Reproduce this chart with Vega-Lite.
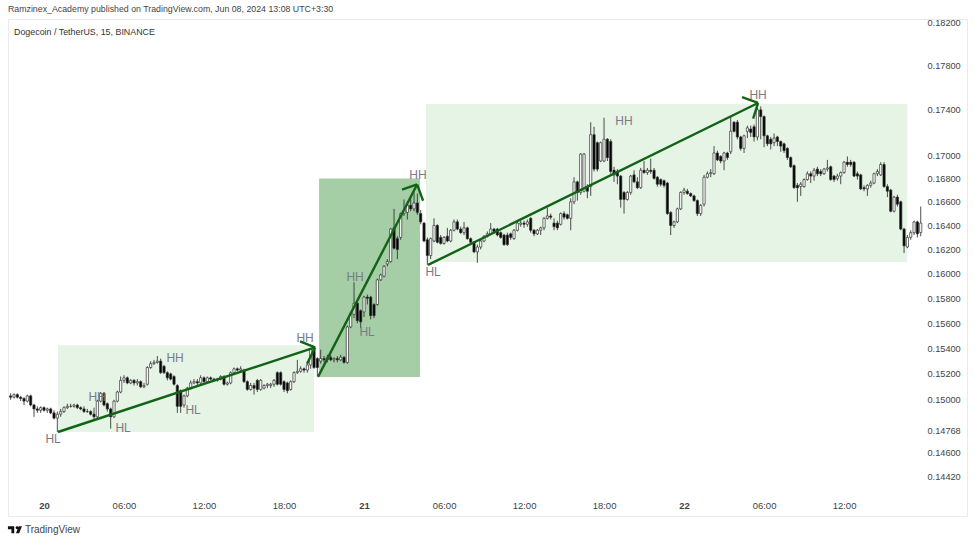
{
  "$schema": "https://vega.github.io/schema/vega-lite/v6.json",
  "description": "DOGE/USDT 15 minute candles with market structure zones, arrows and HH/HL labels.",
  "width": 959,
  "height": 497,
  "autosize": "none",
  "padding": {"left": 8, "top": 19, "right": 8, "bottom": 27},
  "background": "white",
  "title": {"text": "Ramzinex_Academy published on TradingView.com, Jun 08, 2024 13:08 UTC+3:30", "anchor": "start", "fontSize": 8.8, "fontWeight": "normal", "color": "#444444", "font": "Liberation Sans", "offset": 4},
  "config": {"view": {"stroke": "#e8eaef"}, "font": "Liberation Sans"},
  "datasets": {
    "zones": [
      {"a": 1.05, "b": 20.25, "top": 0.15424, "bot": 0.14754, "kind": "pullback"},
      {"a": 20.63, "b": 28.2, "top": 0.168, "bot": 0.15177, "kind": "impulse"},
      {"a": 28.65, "b": 64.73, "top": 0.17453, "bot": 0.16096, "kind": "pullback"}
    ],
    "arrows": [
      {"seg": "a", "t": 1.05, "p": 0.14755}, {"seg": "a", "t": 20.33, "p": 0.15408},
      {"seg": "a1", "t": 19.2, "p": 0.15456}, {"seg": "a1", "t": 20.33, "p": 0.15408},
      {"seg": "a2", "t": 19.73, "p": 0.1528}, {"seg": "a2", "t": 20.33, "p": 0.15408},
      {"seg": "b", "t": 20.55, "p": 0.15177}, {"seg": "b", "t": 27.98, "p": 0.16748},
      {"seg": "b1", "t": 26.85, "p": 0.16704}, {"seg": "b1", "t": 27.98, "p": 0.16748},
      {"seg": "b2", "t": 28.43, "p": 0.16609}, {"seg": "b2", "t": 27.98, "p": 0.16748},
      {"seg": "c", "t": 28.8, "p": 0.16072}, {"seg": "c", "t": 53.55, "p": 0.17461},
      {"seg": "c1", "t": 52.35, "p": 0.17513}, {"seg": "c1", "t": 53.55, "p": 0.17461},
      {"seg": "c2", "t": 53.18, "p": 0.17322}, {"seg": "c2", "t": 53.55, "p": 0.17461}
    ],
    "labels": [
      {"t": 0.68, "p": 0.147, "s": "HL"}, {"t": 3.98, "p": 0.15023, "s": "HH"},
      {"t": 5.93, "p": 0.14785, "s": "HL"}, {"t": 9.83, "p": 0.15323, "s": "HH"},
      {"t": 11.18, "p": 0.14919, "s": "HL"}, {"t": 19.58, "p": 0.1548, "s": "HH"},
      {"t": 23.33, "p": 0.15975, "s": "HH"}, {"t": 24.23, "p": 0.15528, "s": "HL"},
      {"t": 28.05, "p": 0.16826, "s": "HH"}, {"t": 29.18, "p": 0.16016, "s": "HL"},
      {"t": 43.5, "p": 0.17304, "s": "HH"}, {"t": 53.55, "p": 0.17529, "s": "HH"}
    ],
    "candles": [
      {"t":-2.5,"o":0.1503,"c":0.1502,"h":0.1505,"l":0.15},
      {"t":-2.25,"o":0.1502,"c":0.1504,"h":0.1505,"l":0.1501},
      {"t":-2,"o":0.1504,"c":0.1502,"h":0.1505,"l":0.1501},
      {"t":-1.75,"o":0.1502,"c":0.1501,"h":0.1503,"l":0.1499},
      {"t":-1.5,"o":0.1501,"c":0.1499,"h":0.1502,"l":0.1496},
      {"t":-1.25,"o":0.1499,"c":0.1503,"h":0.1504,"l":0.1498},
      {"t":-1,"o":0.1503,"c":0.1496,"h":0.1504,"l":0.1495},
      {"t":-0.75,"o":0.1496,"c":0.1493,"h":0.1497,"l":0.1487},
      {"t":-0.5,"o":0.1493,"c":0.1492,"h":0.1495,"l":0.149},
      {"t":-0.25,"o":0.1492,"c":0.1494,"h":0.1495,"l":0.149},
      {"t":0,"o":0.1494,"c":0.1492,"h":0.1495,"l":0.1491},
      {"t":0.25,"o":0.1492,"c":0.1493,"h":0.1494,"l":0.149},
      {"t":0.5,"o":0.1493,"c":0.149,"h":0.1494,"l":0.1489},
      {"t":0.75,"o":0.149,"c":0.1486,"h":0.1492,"l":0.1485},
      {"t":1,"o":0.1486,"c":0.1489,"h":0.1491,"l":0.14755},
      {"t":1.25,"o":0.1489,"c":0.1491,"h":0.1493,"l":0.1487},
      {"t":1.5,"o":0.1491,"c":0.1494,"h":0.1495,"l":0.149},
      {"t":1.75,"o":0.1494,"c":0.1495,"h":0.1497,"l":0.1493},
      {"t":2,"o":0.1495,"c":0.1495,"h":0.1497,"l":0.1494},
      {"t":2.25,"o":0.1495,"c":0.1496,"h":0.1497,"l":0.1494},
      {"t":2.5,"o":0.1496,"c":0.1494,"h":0.1497,"l":0.1493},
      {"t":2.75,"o":0.1494,"c":0.1493,"h":0.1495,"l":0.1492},
      {"t":3,"o":0.1493,"c":0.1491,"h":0.1495,"l":0.149},
      {"t":3.25,"o":0.1491,"c":0.1491,"h":0.1493,"l":0.149},
      {"t":3.5,"o":0.1491,"c":0.1489,"h":0.1492,"l":0.1488},
      {"t":3.75,"o":0.1489,"c":0.1487,"h":0.1494,"l":0.1484},
      {"t":4,"o":0.1487,"c":0.1499,"h":0.15,"l":0.1486},
      {"t":4.25,"o":0.1499,"c":0.1505,"h":0.1506,"l":0.1498},
      {"t":4.5,"o":0.1505,"c":0.1496,"h":0.1506,"l":0.1495},
      {"t":4.75,"o":0.1497,"c":0.1493,"h":0.1498,"l":0.1491},
      {"t":5,"o":0.1493,"c":0.1487,"h":0.1494,"l":0.1478},
      {"t":5.25,"o":0.1487,"c":0.1499,"h":0.15,"l":0.1486},
      {"t":5.5,"o":0.1499,"c":0.1506,"h":0.1507,"l":0.1498},
      {"t":5.75,"o":0.1506,"c":0.1515,"h":0.1518,"l":0.1505},
      {"t":6,"o":0.1515,"c":0.1517,"h":0.1519,"l":0.1513},
      {"t":6.25,"o":0.1517,"c":0.1513,"h":0.1518,"l":0.1512},
      {"t":6.5,"o":0.1513,"c":0.1515,"h":0.1516,"l":0.1512},
      {"t":6.75,"o":0.1515,"c":0.1513,"h":0.1516,"l":0.1511},
      {"t":7,"o":0.1513,"c":0.1514,"h":0.1516,"l":0.1511},
      {"t":7.25,"o":0.1514,"c":0.151,"h":0.1515,"l":0.1509},
      {"t":7.5,"o":0.151,"c":0.1511,"h":0.1513,"l":0.1509},
      {"t":7.75,"o":0.1512,"c":0.1525,"h":0.1526,"l":0.1511},
      {"t":8,"o":0.1525,"c":0.1528,"h":0.153,"l":0.1524},
      {"t":8.25,"o":0.1528,"c":0.1529,"h":0.1531,"l":0.1527},
      {"t":8.5,"o":0.1529,"c":0.153,"h":0.1534,"l":0.1528},
      {"t":8.75,"o":0.153,"c":0.1521,"h":0.1532,"l":0.152},
      {"t":9,"o":0.1526,"c":0.1521,"h":0.1527,"l":0.152},
      {"t":9.25,"o":0.1521,"c":0.1517,"h":0.1522,"l":0.1515},
      {"t":9.5,"o":0.152,"c":0.1516,"h":0.1521,"l":0.1515},
      {"t":9.75,"o":0.1518,"c":0.1512,"h":0.1519,"l":0.1511},
      {"t":10,"o":0.1511,"c":0.1495,"h":0.1512,"l":0.149},
      {"t":10.25,"o":0.1507,"c":0.1495,"h":0.1508,"l":0.149},
      {"t":10.5,"o":0.1496,"c":0.1503,"h":0.1504,"l":0.1494},
      {"t":10.75,"o":0.1503,"c":0.1509,"h":0.151,"l":0.1502},
      {"t":11,"o":0.1509,"c":0.1513,"h":0.1515,"l":0.1508},
      {"t":11.25,"o":0.1513,"c":0.1514,"h":0.1516,"l":0.1512},
      {"t":11.5,"o":0.1514,"c":0.1513,"h":0.1516,"l":0.1511},
      {"t":11.75,"o":0.1513,"c":0.1517,"h":0.1519,"l":0.1511},
      {"t":12,"o":0.1517,"c":0.1514,"h":0.1518,"l":0.1513},
      {"t":12.25,"o":0.1514,"c":0.1517,"h":0.1518,"l":0.1513},
      {"t":12.5,"o":0.1517,"c":0.1516,"h":0.1518,"l":0.1515},
      {"t":12.75,"o":0.1516,"c":0.1515,"h":0.1517,"l":0.1514},
      {"t":13,"o":0.1515,"c":0.1516,"h":0.1517,"l":0.1514},
      {"t":13.25,"o":0.1516,"c":0.1518,"h":0.1519,"l":0.1515},
      {"t":13.5,"o":0.1518,"c":0.1512,"h":0.1519,"l":0.1511},
      {"t":13.75,"o":0.1512,"c":0.1513,"h":0.1514,"l":0.1511},
      {"t":14,"o":0.1513,"c":0.1521,"h":0.1522,"l":0.1512},
      {"t":14.25,"o":0.1521,"c":0.1524,"h":0.1525,"l":0.152},
      {"t":14.5,"o":0.1524,"c":0.1523,"h":0.1525,"l":0.1522},
      {"t":14.75,"o":0.1523,"c":0.1524,"h":0.1526,"l":0.1521},
      {"t":15,"o":0.1523,"c":0.1514,"h":0.1524,"l":0.1513},
      {"t":15.25,"o":0.1514,"c":0.1508,"h":0.1515,"l":0.1507},
      {"t":15.5,"o":0.1508,"c":0.1511,"h":0.1513,"l":0.1507},
      {"t":15.75,"o":0.1511,"c":0.1509,"h":0.1513,"l":0.1504},
      {"t":16,"o":0.1515,"c":0.1508,"h":0.1516,"l":0.1506},
      {"t":16.25,"o":0.1508,"c":0.1515,"h":0.1516,"l":0.1507},
      {"t":16.5,"o":0.1509,"c":0.1511,"h":0.1512,"l":0.1508},
      {"t":16.75,"o":0.1511,"c":0.1512,"h":0.1513,"l":0.1509},
      {"t":17,"o":0.1511,"c":0.1512,"h":0.1513,"l":0.1509},
      {"t":17.25,"o":0.1512,"c":0.1515,"h":0.1516,"l":0.151},
      {"t":17.5,"o":0.1521,"c":0.1512,"h":0.1522,"l":0.1511},
      {"t":17.75,"o":0.1521,"c":0.1512,"h":0.1522,"l":0.1511},
      {"t":18,"o":0.1514,"c":0.1508,"h":0.1515,"l":0.1506},
      {"t":18.25,"o":0.1513,"c":0.1507,"h":0.1514,"l":0.1505},
      {"t":18.5,"o":0.1508,"c":0.1514,"h":0.1515,"l":0.1507},
      {"t":18.75,"o":0.1514,"c":0.1521,"h":0.1522,"l":0.1513},
      {"t":19,"o":0.1521,"c":0.1522,"h":0.1531,"l":0.152},
      {"t":19.25,"o":0.1522,"c":0.1524,"h":0.1526,"l":0.1521},
      {"t":19.5,"o":0.1524,"c":0.1523,"h":0.1525,"l":0.1521},
      {"t":19.75,"o":0.1523,"c":0.1527,"h":0.1529,"l":0.1521},
      {"t":20,"o":0.1527,"c":0.1539,"h":0.154,"l":0.1524},
      {"t":20.25,"o":0.1539,"c":0.1525,"h":0.154,"l":0.1524},
      {"t":20.5,"o":0.1532,"c":0.1525,"h":0.1533,"l":0.1518},
      {"t":20.75,"o":0.153,"c":0.1532,"h":0.1539,"l":0.1528},
      {"t":21,"o":0.1532,"c":0.1531,"h":0.1534,"l":0.1529},
      {"t":21.25,"o":0.1531,"c":0.1533,"h":0.1535,"l":0.1529},
      {"t":21.5,"o":0.1533,"c":0.1531,"h":0.1535,"l":0.153},
      {"t":21.75,"o":0.1531,"c":0.1532,"h":0.1533,"l":0.1529},
      {"t":22,"o":0.1532,"c":0.1531,"h":0.1534,"l":0.1529},
      {"t":22.25,"o":0.1531,"c":0.1533,"h":0.1535,"l":0.153},
      {"t":22.5,"o":0.1533,"c":0.1529,"h":0.1534,"l":0.1528},
      {"t":22.75,"o":0.1529,"c":0.1557,"h":0.1558,"l":0.1528},
      {"t":23,"o":0.1557,"c":0.1568,"h":0.1569,"l":0.1556},
      {"t":23.25,"o":0.1567,"c":0.1576,"h":0.1593,"l":0.1564},
      {"t":23.5,"o":0.1576,"c":0.1562,"h":0.1578,"l":0.156},
      {"t":23.75,"o":0.157,"c":0.1561,"h":0.1571,"l":0.1556},
      {"t":24,"o":0.1569,"c":0.1581,"h":0.1582,"l":0.1565},
      {"t":24.25,"o":0.1581,"c":0.158,"h":0.1583,"l":0.1575},
      {"t":24.5,"o":0.1581,"c":0.1566,"h":0.1582,"l":0.1563},
      {"t":24.75,"o":0.1575,"c":0.1566,"h":0.1576,"l":0.1564},
      {"t":25,"o":0.1575,"c":0.1595,"h":0.1596,"l":0.1574},
      {"t":25.25,"o":0.1595,"c":0.1599,"h":0.16,"l":0.1594},
      {"t":25.5,"o":0.1598,"c":0.1606,"h":0.1607,"l":0.1597},
      {"t":25.75,"o":0.1608,"c":0.161,"h":0.1612,"l":0.1606},
      {"t":26,"o":0.161,"c":0.1637,"h":0.1638,"l":0.1609},
      {"t":26.25,"o":0.1638,"c":0.1621,"h":0.1654,"l":0.162},
      {"t":26.5,"o":0.1629,"c":0.162,"h":0.1631,"l":0.1612},
      {"t":26.75,"o":0.163,"c":0.165,"h":0.1651,"l":0.1628},
      {"t":27,"o":0.165,"c":0.1653,"h":0.1662,"l":0.1648},
      {"t":27.25,"o":0.1651,"c":0.1657,"h":0.166,"l":0.1645},
      {"t":27.5,"o":0.1657,"c":0.1654,"h":0.1664,"l":0.1652},
      {"t":27.75,"o":0.1654,"c":0.1659,"h":0.1668,"l":0.1652},
      {"t":28,"o":0.1659,"c":0.1651,"h":0.1667,"l":0.1649},
      {"t":28.25,"o":0.165,"c":0.1643,"h":0.1653,"l":0.1641},
      {"t":28.5,"o":0.1642,"c":0.1627,"h":0.1643,"l":0.1626},
      {"t":28.75,"o":0.1628,"c":0.1615,"h":0.163,"l":0.1607},
      {"t":29,"o":0.1615,"c":0.1629,"h":0.163,"l":0.1612},
      {"t":29.25,"o":0.1627,"c":0.164,"h":0.1646,"l":0.1626},
      {"t":29.5,"o":0.164,"c":0.1626,"h":0.1641,"l":0.1625},
      {"t":29.75,"o":0.163,"c":0.1625,"h":0.1632,"l":0.1624},
      {"t":30,"o":0.1625,"c":0.163,"h":0.1631,"l":0.1624},
      {"t":30.25,"o":0.1631,"c":0.1627,"h":0.1638,"l":0.1626},
      {"t":30.5,"o":0.1627,"c":0.1636,"h":0.1637,"l":0.1626},
      {"t":30.75,"o":0.1636,"c":0.1643,"h":0.1645,"l":0.1635},
      {"t":31,"o":0.1643,"c":0.1637,"h":0.1645,"l":0.1636},
      {"t":31.25,"o":0.1637,"c":0.1634,"h":0.1639,"l":0.1633},
      {"t":31.5,"o":0.1634,"c":0.1638,"h":0.1643,"l":0.1632},
      {"t":31.75,"o":0.1638,"c":0.1629,"h":0.1639,"l":0.1628},
      {"t":32,"o":0.1629,"c":0.1626,"h":0.163,"l":0.1625},
      {"t":32.25,"o":0.1626,"c":0.1618,"h":0.1627,"l":0.1617},
      {"t":32.5,"o":0.1618,"c":0.1622,"h":0.1624,"l":0.1609},
      {"t":32.75,"o":0.1622,"c":0.1627,"h":0.1628,"l":0.162},
      {"t":33,"o":0.1627,"c":0.1631,"h":0.1632,"l":0.1626},
      {"t":33.25,"o":0.1631,"c":0.1633,"h":0.1635,"l":0.163},
      {"t":33.5,"o":0.1633,"c":0.1637,"h":0.1642,"l":0.1632},
      {"t":33.75,"o":0.1637,"c":0.1635,"h":0.1638,"l":0.1633},
      {"t":34,"o":0.1637,"c":0.1632,"h":0.1638,"l":0.1631},
      {"t":34.25,"o":0.1634,"c":0.163,"h":0.1635,"l":0.1629},
      {"t":34.5,"o":0.1632,"c":0.1624,"h":0.1633,"l":0.1623},
      {"t":34.75,"o":0.1632,"c":0.1624,"h":0.1634,"l":0.1623},
      {"t":35,"o":0.1633,"c":0.163,"h":0.1634,"l":0.1628},
      {"t":35.25,"o":0.1629,"c":0.1636,"h":0.1637,"l":0.1628},
      {"t":35.5,"o":0.1636,"c":0.1642,"h":0.1643,"l":0.1635},
      {"t":35.75,"o":0.1641,"c":0.1642,"h":0.1644,"l":0.1639},
      {"t":36,"o":0.1642,"c":0.1641,"h":0.1644,"l":0.1638},
      {"t":36.25,"o":0.1641,"c":0.1643,"h":0.1645,"l":0.1639},
      {"t":36.5,"o":0.1646,"c":0.1636,"h":0.1647,"l":0.1634},
      {"t":36.75,"o":0.1636,"c":0.1633,"h":0.1637,"l":0.1631},
      {"t":37,"o":0.1633,"c":0.1636,"h":0.1637,"l":0.1632},
      {"t":37.25,"o":0.1636,"c":0.1638,"h":0.1639,"l":0.1632},
      {"t":37.5,"o":0.1638,"c":0.1646,"h":0.1647,"l":0.1636},
      {"t":37.75,"o":0.1646,"c":0.1648,"h":0.1655,"l":0.1645},
      {"t":38,"o":0.1648,"c":0.1647,"h":0.165,"l":0.1645},
      {"t":38.25,"o":0.1642,"c":0.1639,"h":0.1646,"l":0.1636},
      {"t":38.5,"o":0.1642,"c":0.1638,"h":0.1644,"l":0.1636},
      {"t":38.75,"o":0.1641,"c":0.165,"h":0.1651,"l":0.164},
      {"t":39,"o":0.165,"c":0.1647,"h":0.1652,"l":0.1645},
      {"t":39.25,"o":0.1649,"c":0.1646,"h":0.165,"l":0.1645},
      {"t":39.5,"o":0.1646,"c":0.166,"h":0.1663,"l":0.1636},
      {"t":39.75,"o":0.166,"c":0.1677,"h":0.1681,"l":0.1658},
      {"t":40,"o":0.1677,"c":0.1668,"h":0.1678,"l":0.1661},
      {"t":40.25,"o":0.1668,"c":0.1701,"h":0.1702,"l":0.1666},
      {"t":40.5,"o":0.1669,"c":0.1701,"h":0.1702,"l":0.1668},
      {"t":40.75,"o":0.1673,"c":0.1669,"h":0.1675,"l":0.1663},
      {"t":41,"o":0.1673,"c":0.1718,"h":0.1729,"l":0.1665},
      {"t":41.25,"o":0.1718,"c":0.1688,"h":0.1725,"l":0.1686},
      {"t":41.5,"o":0.1711,"c":0.1688,"h":0.1712,"l":0.1686},
      {"t":41.75,"o":0.1695,"c":0.1711,"h":0.1712,"l":0.1694},
      {"t":42,"o":0.1695,"c":0.1714,"h":0.1733,"l":0.1694},
      {"t":42.25,"o":0.1714,"c":0.1698,"h":0.1715,"l":0.1695},
      {"t":42.5,"o":0.1712,"c":0.1686,"h":0.1714,"l":0.1684},
      {"t":42.75,"o":0.1687,"c":0.1683,"h":0.169,"l":0.1677},
      {"t":43,"o":0.1686,"c":0.1682,"h":0.1688,"l":0.1675},
      {"t":43.25,"o":0.1682,"c":0.1662,"h":0.1683,"l":0.1655},
      {"t":43.5,"o":0.1668,"c":0.1662,"h":0.1669,"l":0.165},
      {"t":43.75,"o":0.1662,"c":0.1668,"h":0.1669,"l":0.1661},
      {"t":44,"o":0.1668,"c":0.1682,"h":0.1683,"l":0.1666},
      {"t":44.25,"o":0.1683,"c":0.1677,"h":0.1687,"l":0.1676},
      {"t":44.5,"o":0.1677,"c":0.1672,"h":0.1681,"l":0.1671},
      {"t":44.75,"o":0.1672,"c":0.1687,"h":0.1689,"l":0.1671},
      {"t":45,"o":0.1687,"c":0.1685,"h":0.1695,"l":0.1684},
      {"t":45.25,"o":0.1685,"c":0.1687,"h":0.1689,"l":0.1683},
      {"t":45.5,"o":0.1687,"c":0.1686,"h":0.1697,"l":0.1684},
      {"t":45.75,"o":0.1687,"c":0.168,"h":0.1689,"l":0.1679},
      {"t":46,"o":0.1681,"c":0.1675,"h":0.1682,"l":0.1673},
      {"t":46.25,"o":0.1679,"c":0.1675,"h":0.168,"l":0.1673},
      {"t":46.5,"o":0.1678,"c":0.1674,"h":0.1679,"l":0.1672},
      {"t":46.75,"o":0.1676,"c":0.165,"h":0.1677,"l":0.1649},
      {"t":47,"o":0.1651,"c":0.164,"h":0.1652,"l":0.1632},
      {"t":47.25,"o":0.164,"c":0.1643,"h":0.1644,"l":0.1638},
      {"t":47.5,"o":0.1643,"c":0.1654,"h":0.1655,"l":0.1642},
      {"t":47.75,"o":0.1654,"c":0.1668,"h":0.1669,"l":0.1653},
      {"t":48,"o":0.1668,"c":0.167,"h":0.1672,"l":0.1666},
      {"t":48.25,"o":0.1669,"c":0.1667,"h":0.1671,"l":0.1666},
      {"t":48.5,"o":0.1667,"c":0.1665,"h":0.1668,"l":0.1664},
      {"t":48.75,"o":0.1665,"c":0.1661,"h":0.1666,"l":0.166},
      {"t":49,"o":0.1661,"c":0.165,"h":0.1662,"l":0.1648},
      {"t":49.25,"o":0.165,"c":0.1657,"h":0.1658,"l":0.1648},
      {"t":49.5,"o":0.1658,"c":0.1681,"h":0.1683,"l":0.1656},
      {"t":49.75,"o":0.1681,"c":0.1684,"h":0.1686,"l":0.168},
      {"t":50,"o":0.1684,"c":0.1685,"h":0.1688,"l":0.1681},
      {"t":50.25,"o":0.1684,"c":0.1702,"h":0.1708,"l":0.1683},
      {"t":50.5,"o":0.1702,"c":0.1696,"h":0.1704,"l":0.1695},
      {"t":50.75,"o":0.1699,"c":0.1695,"h":0.17,"l":0.1693},
      {"t":51,"o":0.1695,"c":0.1702,"h":0.1703,"l":0.1687},
      {"t":51.25,"o":0.1702,"c":0.1698,"h":0.1703,"l":0.1696},
      {"t":51.5,"o":0.1703,"c":0.1721,"h":0.1734,"l":0.1701},
      {"t":51.75,"o":0.1729,"c":0.1721,"h":0.173,"l":0.172},
      {"t":52,"o":0.1729,"c":0.1716,"h":0.1731,"l":0.1714},
      {"t":52.25,"o":0.1716,"c":0.1706,"h":0.1717,"l":0.1704},
      {"t":52.5,"o":0.1706,"c":0.1717,"h":0.1718,"l":0.1702},
      {"t":52.75,"o":0.1721,"c":0.1724,"h":0.1726,"l":0.1715},
      {"t":53,"o":0.1723,"c":0.172,"h":0.1726,"l":0.1716},
      {"t":53.25,"o":0.1725,"c":0.1716,"h":0.1727,"l":0.1712},
      {"t":53.5,"o":0.1716,"c":0.174,"h":0.1742,"l":0.1713},
      {"t":53.75,"o":0.174,"c":0.1734,"h":0.1743,"l":0.1714},
      {"t":54,"o":0.1734,"c":0.1717,"h":0.1735,"l":0.1707},
      {"t":54.25,"o":0.1717,"c":0.171,"h":0.1718,"l":0.1708},
      {"t":54.5,"o":0.1714,"c":0.171,"h":0.1716,"l":0.1705},
      {"t":54.75,"o":0.1711,"c":0.1715,"h":0.1719,"l":0.1708},
      {"t":55,"o":0.1716,"c":0.1712,"h":0.1717,"l":0.1708},
      {"t":55.25,"o":0.1712,"c":0.1708,"h":0.1713,"l":0.1703},
      {"t":55.5,"o":0.171,"c":0.1704,"h":0.1711,"l":0.1702},
      {"t":55.75,"o":0.1706,"c":0.1698,"h":0.1707,"l":0.1696},
      {"t":56,"o":0.1698,"c":0.169,"h":0.1699,"l":0.1689},
      {"t":56.25,"o":0.1691,"c":0.1672,"h":0.1692,"l":0.1671},
      {"t":56.5,"o":0.1674,"c":0.1672,"h":0.1676,"l":0.166},
      {"t":56.75,"o":0.1673,"c":0.1675,"h":0.1677,"l":0.1665},
      {"t":57,"o":0.1673,"c":0.1679,"h":0.168,"l":0.1672},
      {"t":57.25,"o":0.1679,"c":0.1684,"h":0.1686,"l":0.1678},
      {"t":57.5,"o":0.1684,"c":0.1682,"h":0.1686,"l":0.1676},
      {"t":57.75,"o":0.1682,"c":0.1687,"h":0.1689,"l":0.1678},
      {"t":58,"o":0.1688,"c":0.1684,"h":0.169,"l":0.1682},
      {"t":58.25,"o":0.1686,"c":0.1684,"h":0.1688,"l":0.1682},
      {"t":58.5,"o":0.1684,"c":0.1688,"h":0.1689,"l":0.1683},
      {"t":58.75,"o":0.1688,"c":0.1689,"h":0.1696,"l":0.1686},
      {"t":59,"o":0.169,"c":0.1679,"h":0.1691,"l":0.1678},
      {"t":59.25,"o":0.1682,"c":0.1679,"h":0.1683,"l":0.1677},
      {"t":59.5,"o":0.168,"c":0.1682,"h":0.1684,"l":0.1678},
      {"t":59.75,"o":0.1682,"c":0.1685,"h":0.1686,"l":0.1675},
      {"t":60,"o":0.1685,"c":0.1694,"h":0.1695,"l":0.1684},
      {"t":60.25,"o":0.1694,"c":0.1692,"h":0.1699,"l":0.169},
      {"t":60.5,"o":0.1694,"c":0.1692,"h":0.1696,"l":0.169},
      {"t":60.75,"o":0.1694,"c":0.1682,"h":0.1695,"l":0.1681},
      {"t":61,"o":0.1684,"c":0.1682,"h":0.1686,"l":0.1679},
      {"t":61.25,"o":0.1683,"c":0.1671,"h":0.1684,"l":0.167},
      {"t":61.5,"o":0.1672,"c":0.1671,"h":0.1674,"l":0.1669},
      {"t":61.75,"o":0.1671,"c":0.1674,"h":0.1675,"l":0.1665},
      {"t":62,"o":0.1674,"c":0.1676,"h":0.1678,"l":0.1672},
      {"t":62.25,"o":0.1676,"c":0.1684,"h":0.1685,"l":0.1675},
      {"t":62.5,"o":0.1684,"c":0.1686,"h":0.1688,"l":0.1682},
      {"t":62.75,"o":0.1683,"c":0.1692,"h":0.1694,"l":0.1682},
      {"t":63,"o":0.1692,"c":0.1673,"h":0.1694,"l":0.1672},
      {"t":63.25,"o":0.1673,"c":0.1669,"h":0.1675,"l":0.1664},
      {"t":63.5,"o":0.167,"c":0.1652,"h":0.1671,"l":0.1651},
      {"t":63.75,"o":0.1652,"c":0.1664,"h":0.1665,"l":0.1651},
      {"t":64,"o":0.1664,"c":0.1658,"h":0.1666,"l":0.1656},
      {"t":64.25,"o":0.166,"c":0.1637,"h":0.1661,"l":0.1636},
      {"t":64.5,"o":0.1637,"c":0.1623,"h":0.1638,"l":0.1617},
      {"t":64.75,"o":0.1622,"c":0.163,"h":0.1632,"l":0.1621},
      {"t":65,"o":0.163,"c":0.1634,"h":0.1636,"l":0.1628},
      {"t":65.25,"o":0.1634,"c":0.1643,"h":0.1644,"l":0.1632},
      {"t":65.5,"o":0.1643,"c":0.1633,"h":0.1644,"l":0.163},
      {"t":65.75,"o":0.1634,"c":0.1642,"h":0.1656,"l":0.1631}
    ],
    "notes": [
      {"t": -2.25, "p": 0.18107, "s": "Dogecoin / TetherUS, 15, BINANCE", "kind": "symbol"},
      {"t": -1.43, "p": 0.14034, "s": "TradingView", "kind": "brand"}
    ],
    "logo": [{"t": -2.18, "p": 0.14034}]
  },
  "layer": [
    {
      "data": {"name": "zones"},
      "mark": {"type": "rect"},
      "encoding": {
        "x": {
          "field": "a",
          "type": "quantitative",
          "scale": {"domain": [-2.7, 69.22], "nice": false, "zero": false, "padding": 0},
          "axis": {
            "title": null,
            "values": [0, 6, 12, 18, 24, 30, 36, 42, 48, 54, 60],
            "labelExpr": "datum.value % 24 == 0 ? '' + (20 + datum.value / 24) : (datum.value % 24 < 10 ? '0' : '') + (datum.value % 24) + ':00'",
            "labelFontWeight": {"condition": {"test": "datum.value % 24 == 0", "value": "bold"}, "value": "normal"},
            "labelPadding": -11,
            "labelBaseline": "middle",
            "labelFontSize": 9.5,
            "labelColor": "#444444",
            "labelFont": "Liberation Sans",
            "labelOverlap": false,
            "labelFlush": false,
            "labelBound": false,
            "ticks": false,
            "domain": false,
            "grid": false
          }
        },
        "x2": {"field": "b"},
        "y": {
          "field": "top",
          "type": "quantitative",
          "scale": {"type": "log", "domain": [0.14134, 0.18228], "nice": false, "zero": false},
          "axis": {
            "title": null,
            "orient": "right",
            "values": [0.182, 0.178, 0.174, 0.17, 0.168, 0.166, 0.164, 0.162, 0.16, 0.158, 0.156, 0.154, 0.152, 0.15, 0.14768, 0.146, 0.1442],
            "format": ".5f",
            "labelPadding": -40,
            "labelFontSize": 9.2,
            "labelColor": "#444444",
            "labelFont": "Liberation Sans",
            "labelOverlap": false,
            "labelBound": false,
            "ticks": false,
            "domain": false,
            "grid": false
          }
        },
        "y2": {"field": "bot"},
        "fill": {
          "field": "kind",
          "type": "nominal",
          "scale": {"domain": ["pullback", "impulse"], "range": ["#e6f4e6", "#a6cea6"]},
          "legend": null
        }
      }
    },
    {
      "data": {"name": "candles"},
      "mark": {"type": "rule", "color": "#222222", "strokeWidth": 0.8},
      "encoding": {
        "x": {"field": "t", "type": "quantitative"},
        "y": {"field": "l", "type": "quantitative"},
        "y2": {"field": "h"}
      }
    },
    {
      "data": {"name": "candles"},
      "mark": {"type": "bar", "width": 2.2, "stroke": "#333333", "strokeWidth": 0.7},
      "encoding": {
        "x": {"field": "t", "type": "quantitative"},
        "y": {"field": "o", "type": "quantitative"},
        "y2": {"field": "c"},
        "fill": {"condition": {"test": "datum.c >= datum.o", "value": "#ffffff"}, "value": "#000000"}
      }
    },
    {
      "data": {"name": "arrows"},
      "mark": {"type": "line", "color": "#126316", "strokeWidth": 2.4},
      "encoding": {
        "x": {"field": "t", "type": "quantitative"},
        "y": {"field": "p", "type": "quantitative"},
        "detail": {"field": "seg"}
      }
    },
    {
      "data": {"name": "labels"},
      "mark": {"type": "text", "fontSize": 12, "color": "#787b86", "font": "Liberation Sans"},
      "encoding": {
        "x": {"field": "t", "type": "quantitative"},
        "y": {"field": "p", "type": "quantitative"},
        "text": {"field": "s"}
      }
    },
    {
      "data": {"name": "notes"},
      "mark": {"type": "text", "align": "left", "font": "Liberation Sans"},
      "encoding": {
        "x": {"field": "t", "type": "quantitative"},
        "y": {"field": "p", "type": "quantitative"},
        "text": {"field": "s"},
        "size": {"field": "kind", "type": "nominal", "scale": {"domain": ["symbol", "brand"], "range": [8.9, 10]}, "legend": null},
        "color": {"field": "kind", "type": "nominal", "scale": {"domain": ["symbol", "brand"], "range": ["#333333", "#444444"]}, "legend": null}
      }
    },
    {
      "data": {"name": "logo"},
      "mark": {"type": "point", "filled": true, "opacity": 1, "size": 196, "color": "#111111", "shape": "M-1 -0.5H-0.1V0.5H-0.5V-0.1H-1ZM0.3 -0.5A0.2 0.2 0 1 1 0.3 -0.1A0.2 0.2 0 1 1 0.3 -0.5ZM0.55 -0.5H1L0.6 0.5H0.15Z"},
      "encoding": {
        "x": {"field": "t", "type": "quantitative"},
        "y": {"field": "p", "type": "quantitative"}
      }
    }
  ]
}
